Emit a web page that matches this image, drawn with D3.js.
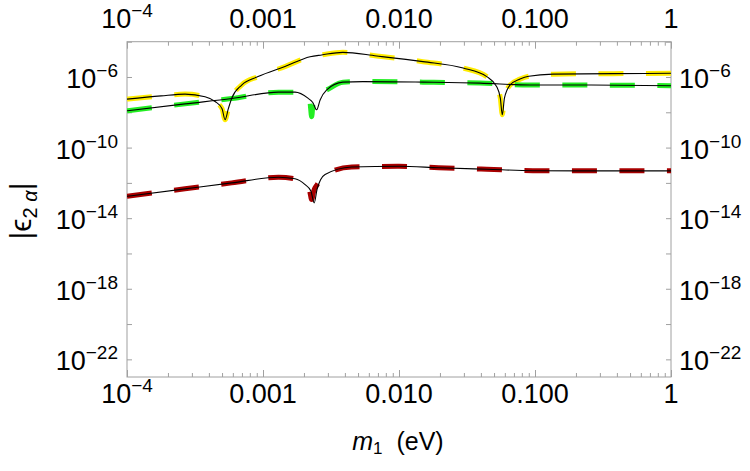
<!DOCTYPE html>
<html>
<head>
<meta charset="utf-8">
<script src="https://cdn.jsdelivr.net/npm/d3@7"></script>
<style>
body { margin: 0; background: #fff; }
text { font-family: "Liberation Sans", Arial, sans-serif; fill: #000; }
</style>
</head>
<body>
<script>
// values (m1 in eV, |eps| dimensionless)
var yellowM   = [1e-4, 1.78e-4, 2.67e-4, 3.75e-4, 4.44e-4, 5.0e-4, 5.26e-4, 5.56e-4, 5.89e-4, 6.97e-4, 9.2e-4, 1.45e-3, 2.22e-3, 2.7e-3, 3.87e-3, 6.85e-3, 0.015, 0.0296, 0.0442, 0.0522, 0.0556, 0.0575, 0.0596, 0.0655, 0.0776, 0.09, 0.1355, 0.375, 1];
var yellowEps = [5.6e-8, 8.5e-8, 1.07e-7, 7.6e-8, 4.1e-8, 1.6e-8, 3.8e-9, 1.6e-8, 6.3e-8, 3.5e-7, 1.05e-6, 3.9e-6, 1.4e-5, 1.78e-5, 2.5e-5, 1.55e-5, 7.4e-6, 3.2e-6, 1.05e-6, 2.9e-7, 6.3e-8, 7.2e-9, 6.3e-8, 3.5e-7, 7.6e-7, 1.1e-6, 1.45e-6, 1.55e-6, 1.62e-6];

var greenM   = [1e-4, 2.67e-4, 5.89e-4, 1.3e-3, 1.72e-3, 2.04e-3, 2.21e-3, 2.28e-3, 2.34e-3, 2.51e-3, 2.94e-3, 3.87e-3, 5.43e-3, 0.015, 0.0394, 0.0918, 0.214, 1];
var greenEps = [1.22e-8, 3.0e-8, 6.0e-8, 1.38e-7, 1.38e-7, 8.9e-8, 4.0e-8, 5.6e-9, 4.0e-8, 1.12e-7, 1.86e-7, 5.1e-7, 5.5e-7, 5.1e-7, 4.5e-7, 3.5e-7, 3.5e-7, 3.2e-7];

var redM   = [1e-4, 2.67e-4, 5.89e-4, 1.3e-3, 1.72e-3, 2.04e-3, 2.2e-3, 2.28e-3, 2.36e-3, 2.5e-3, 2.86e-3, 4.49e-3, 0.01, 0.0196, 0.0442, 0.0966, 0.22, 1];
var redEps = [1.74e-13, 4.6e-13, 1.0e-12, 2.1e-12, 1.7e-12, 7.9e-13, 3.5e-13, 1.15e-13, 3.5e-13, 7.9e-13, 2.95e-12, 7.9e-12, 8.7e-12, 7.2e-12, 5.9e-12, 4.9e-12, 4.8e-12, 4.8e-12];

// thin black curves (same as the dashed ones except near the dips)
var blackGreenM   = [1e-4, 2.67e-4, 5.89e-4, 1.3e-3, 1.72e-3, 2.14e-3, 2.33e-3, 2.48e-3, 2.63e-3, 2.94e-3, 3.87e-3, 5.43e-3, 0.015, 0.0394, 0.0918, 0.214, 1];
var blackGreenEps = [1.22e-8, 3.0e-8, 6.0e-8, 1.38e-7, 1.38e-7, 6.3e-8, 3.5e-8, 1.38e-8, 5.0e-8, 1.86e-7, 5.1e-7, 5.5e-7, 5.1e-7, 4.5e-7, 3.5e-7, 3.5e-7, 3.2e-7];

var blackRedM   = [1e-4, 2.67e-4, 5.89e-4, 1.3e-3, 1.72e-3, 2.04e-3, 2.25e-3, 2.38e-3, 2.5e-3, 2.65e-3, 2.86e-3, 4.49e-3, 0.01, 0.0196, 0.0442, 0.0966, 0.22, 1];
var blackRedEps = [1.74e-13, 4.6e-13, 1.0e-12, 2.1e-12, 1.7e-12, 7.9e-13, 3.5e-13, 7.4e-14, 4.5e-13, 1.5e-12, 2.95e-12, 7.9e-12, 8.7e-12, 7.2e-12, 5.9e-12, 4.9e-12, 4.8e-12, 4.8e-12];

var xTicks = [1e-4, 1e-3, 1e-2, 1e-1, 1];
var xTickLabels = ["10^-4", "0.001", "0.010", "0.100", "1"];
var yTicks = [1e-22, 1e-20, 1e-18, 1e-16, 1e-14, 1e-12, 1e-10, 1e-8, 1e-6, 1e-4];
var yLabelTicks = [1e-22, 1e-18, 1e-14, 1e-10, 1e-6];
var yTickLabels = ["10^-22", "10^-18", "10^-14", "10^-10", "10^-6"];

var W = 750, H = 471;
var plotLeft = 127, plotRight = 671, plotTop = 41.7, plotBottom = 377;

var svg = d3.select("body").append("svg")
    .attr("width", W).attr("height", H);

var x = d3.scaleLog().domain([1e-4, 1]).range([plotLeft, plotRight]);
var y = d3.scaleLog().domain([1e-23, 1e-4]).range([plotBottom, plotTop]);

var xMinor = [];
xTicks.slice(0, -1).forEach(function(d) {
    for (var k = 2; k <= 9; k++) xMinor.push(k * d);
});

var frameColor = "#a0a0a0";

function styleAxis(g) {
    g.select(".domain").remove();
    g.selectAll("line").attr("stroke", frameColor);
    g.selectAll("text").remove();
}

// ticks, pointing inwards
svg.append("g").attr("transform", "translate(0," + plotBottom + ")")
    .call(d3.axisBottom(x).tickValues(xTicks).tickSize(-7).tickFormat("")).call(styleAxis);
svg.append("g").attr("transform", "translate(0," + plotBottom + ")")
    .call(d3.axisBottom(x).tickValues(xMinor).tickSize(-4).tickFormat("")).call(styleAxis);
svg.append("g").attr("transform", "translate(0," + plotTop + ")")
    .call(d3.axisTop(x).tickValues(xTicks).tickSize(-7).tickFormat("")).call(styleAxis);
svg.append("g").attr("transform", "translate(0," + plotTop + ")")
    .call(d3.axisTop(x).tickValues(xMinor).tickSize(-4).tickFormat("")).call(styleAxis);
svg.append("g").attr("transform", "translate(" + plotLeft + ",0)")
    .call(d3.axisLeft(y).tickValues(yTicks).tickSize(-5).tickFormat("")).call(styleAxis);
svg.append("g").attr("transform", "translate(" + plotRight + ",0)")
    .call(d3.axisRight(y).tickValues(yTicks).tickSize(-5).tickFormat("")).call(styleAxis);

svg.append("rect")
    .attr("x", plotLeft).attr("y", plotTop)
    .attr("width", plotRight - plotLeft).attr("height", plotBottom - plotTop)
    .attr("fill", "none").attr("stroke", frameColor).attr("stroke-width", 1);

// tick labels, "10^-n" written with a raised exponent
function writeLabel(textSel, label) {
    var parts = label.split("^");
    textSel.append("tspan").text(parts[0]);
    if (parts.length > 1) {
        textSel.append("tspan")
            .attr("dy", -11)
            .attr("font-size", 19)
            .text(parts[1].replace("-", "\u2212"));
    }
}

xTicks.forEach(function(v, i) {
    [28, 403].forEach(function(base) {
        var t = svg.append("text")
            .attr("x", x(v)).attr("y", base)
            .attr("text-anchor", "middle")
            .attr("font-size", 27);
        writeLabel(t, xTickLabels[i]);
    });
});

yLabelTicks.forEach(function(v, i) {
    var tl = svg.append("text")
        .attr("x", 118).attr("y", y(v) + 11)
        .attr("text-anchor", "end")
        .attr("font-size", 27);
    writeLabel(tl, yTickLabels[i]);
    var tr = svg.append("text")
        .attr("x", 679).attr("y", y(v) + 11)
        .attr("text-anchor", "start")
        .attr("font-size", 27);
    writeLabel(tr, yTickLabels[i]);
});

// axis titles
var xt = svg.append("text")
    .attr("x", 398).attr("y", 450)
    .attr("text-anchor", "middle")
    .attr("font-size", 25);
xt.append("tspan").attr("font-style", "italic").text("m");
xt.append("tspan").attr("font-size", 17).attr("dy", 4).text("1");
xt.append("tspan").attr("dy", -4).text("\u00a0 (eV)");

var yt = svg.append("text")
    .attr("transform", "translate(31,211) rotate(-90)")
    .attr("text-anchor", "middle")
    .attr("font-size", 30);
yt.append("tspan").text("|");
yt.append("tspan").text("\u03f5");
yt.append("tspan").attr("font-size", 20).attr("dy", 6).text("2 ");
yt.append("tspan").attr("font-size", 20).attr("font-style", "italic").text("\u03b1");
yt.append("tspan").attr("dy", -6).text("|");

// curves
svg.append("clipPath").attr("id", "plotClip")
    .append("rect")
    .attr("x", plotLeft).attr("y", plotTop)
    .attr("width", plotRight - plotLeft).attr("height", plotBottom - plotTop);

var plot = svg.append("g").attr("clip-path", "url(#plotClip)");

var line = d3.line()
    .x(function(d) { return x(d[0]); })
    .y(function(d) { return y(d[1]); })
    .curve(d3.curveMonotoneX);

function pairs(ms, es) {
    return ms.map(function(m, i) { return [m, es[i]]; });
}

var dashed = [
    { color: "#ffec00", data: pairs(yellowM, yellowEps) },
    { color: "#22ee22", data: pairs(greenM, greenEps) },
    { color: "#a80000", data: pairs(redM, redEps) }
];
var thin = [
    pairs(yellowM, yellowEps),
    pairs(blackGreenM, blackGreenEps),
    pairs(blackRedM, blackRedEps)
];

plot.selectAll("path.dash")
    .data(dashed)
    .enter().append("path")
    .attr("class", "dash")
    .attr("d", function(d) { return line(d.data); })
    .attr("fill", "none")
    .attr("stroke", function(d) { return d.color; })
    .attr("stroke-width", 5)
    .attr("stroke-dasharray", "25,22.5");

plot.selectAll("path.thin")
    .data(thin)
    .enter().append("path")
    .attr("class", "thin")
    .attr("d", line)
    .attr("fill", "none")
    .attr("stroke", "#000")
    .attr("stroke-width", 1.1);
</script>
</body>
</html>
